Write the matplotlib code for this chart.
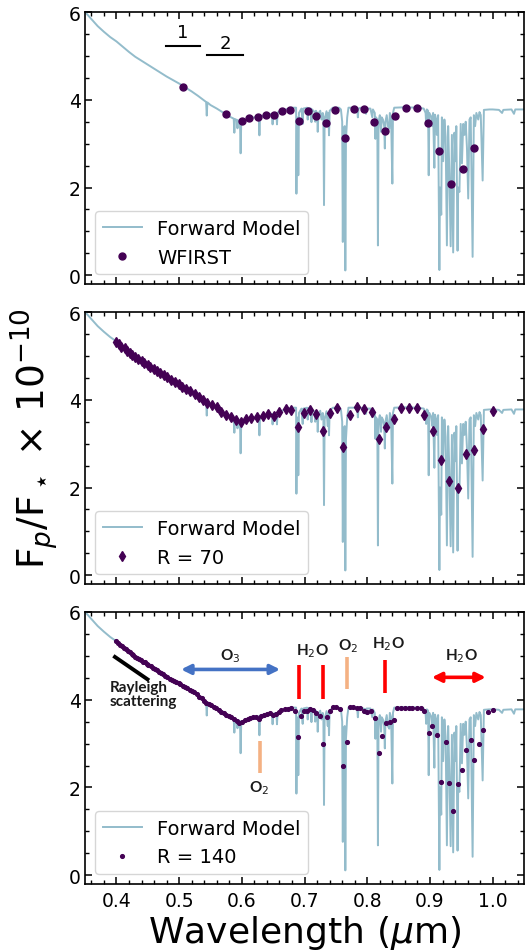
import numpy as np
import matplotlib
matplotlib.use('Agg')
import matplotlib.pyplot as plt
from matplotlib.ticker import MultipleLocator

# forward model spectrum, wavelength (micron) and Fp/Fs (x 1e-10)
model_wl = [
    0.350, 0.360, 0.370, 0.380, 0.390, 0.400, 0.410, 0.420, 0.430, 0.440,
    0.450, 0.460, 0.470, 0.480, 0.490, 0.500, 0.510, 0.520, 0.530, 0.540,
    0.543, 0.544, 0.545, 0.550, 0.560, 0.570, 0.580, 0.587, 0.588, 0.589,
    0.592, 0.593, 0.594, 0.597, 0.598, 0.599, 0.605, 0.610, 0.620, 0.627,
    0.628, 0.629, 0.640, 0.648, 0.649, 0.650, 0.655, 0.656, 0.657, 0.660,
    0.670, 0.680,
    0.6865, 0.687, 0.688, 0.6895, 0.690, 0.691, 0.695, 0.697, 0.698, 0.704,
    0.705, 0.706, 0.710, 0.711, 0.712, 0.716, 0.717, 0.718, 0.720, 0.721,
    0.722, 0.725, 0.727, 0.729, 0.730, 0.731, 0.732, 0.735, 0.737, 0.738,
    0.739, 0.740, 0.745, 0.750, 0.755, 0.758, 0.760, 0.761, 0.762, 0.764,
    0.765, 0.766, 0.768, 0.770, 0.780, 0.784, 0.785, 0.786, 0.790, 0.797,
    0.798, 0.799, 0.805, 0.808, 0.809, 0.812, 0.813, 0.814, 0.816, 0.817,
    0.818, 0.820, 0.822, 0.823, 0.825, 0.827, 0.828, 0.829, 0.831, 0.833,
    0.835, 0.836, 0.838, 0.840, 0.841, 0.843, 0.860, 0.880,
    0.890, 0.893, 0.894, 0.895, 0.897, 0.898, 0.899, 0.902, 0.904, 0.905,
    0.907, 0.908, 0.910, 0.911, 0.913, 0.915, 0.916, 0.918, 0.919, 0.921,
    0.923, 0.925, 0.927, 0.929, 0.931, 0.933, 0.935, 0.937, 0.939, 0.941,
    0.942, 0.944, 0.945, 0.947, 0.949, 0.951, 0.953, 0.955, 0.957, 0.959,
    0.961, 0.963, 0.965, 0.968, 0.970, 0.972, 0.974, 0.977, 0.979, 0.981,
    0.984, 0.986, 0.995, 1.000, 1.010, 1.015, 1.017, 1.030, 1.034, 1.036, 1.050,
]
model_flux = [
    6.00, 5.84, 5.68, 5.55, 5.43, 5.33, 5.21, 5.09, 4.98, 4.89,
    4.80, 4.71, 4.62, 4.53, 4.45, 4.37, 4.28, 4.19, 4.09, 3.98,
    3.95, 3.64, 3.94, 3.88, 3.80, 3.71, 3.62, 3.57, 3.25, 3.56,
    3.54, 3.35, 3.53, 3.51, 2.78, 3.50, 3.53, 3.57, 3.60, 3.62,
    3.19, 3.62, 3.66, 3.68, 3.44, 3.68, 3.70, 3.44, 3.71, 3.73,
    3.78, 3.82,
    3.82, 1.86, 3.60, 3.55, 2.28, 3.70, 3.80, 3.45, 3.80, 3.82,
    3.55, 3.81, 3.80, 3.49, 3.78, 3.72, 3.50, 3.75, 3.70, 3.27,
    3.68, 3.75, 3.55, 3.70, 3.60, 1.60, 3.55, 3.74, 3.40, 3.70,
    3.19, 3.75, 3.82, 3.82, 3.82, 3.78, 3.50, 0.76, 3.30, 3.40,
    0.11, 3.10, 3.60, 3.82, 3.82, 3.78, 3.60, 3.80, 3.82, 3.78,
    3.68, 3.80, 3.80, 3.60, 3.78, 3.70, 3.11, 3.60, 3.55, 0.68,
    3.50, 3.65, 3.27, 3.60, 3.55, 3.40, 2.89, 3.50, 3.65, 3.40,
    3.34, 3.70, 3.60, 2.09, 3.70, 3.82, 3.83, 3.82,
    3.80, 3.70, 3.45, 3.78, 3.75, 2.28, 3.70, 3.62, 3.40, 3.70,
    2.45, 3.66, 3.55, 3.20, 3.65, 0.12, 2.00, 1.38, 3.60, 2.60,
    3.55, 3.15, 0.68, 3.40, 2.30, 0.66, 3.20, 0.52, 3.25, 2.60,
    3.40, 0.56, 2.00, 1.90, 3.45, 2.55, 3.45, 3.20, 3.50, 2.90,
    1.75, 3.55, 3.60, 0.42, 3.65, 3.40, 3.70, 3.55, 3.72, 3.65,
    2.16, 3.77, 3.78, 3.78, 3.77, 3.70, 3.77, 3.78, 3.68, 3.78, 3.78,
]

# WFIRST band photometry
wfirst_wl = [0.506, 0.575, 0.600, 0.612, 0.625, 0.638, 0.651, 0.664, 0.677, 0.691,
             0.705, 0.719, 0.734, 0.749, 0.764, 0.779, 0.795, 0.811, 0.828, 0.844,
             0.861, 0.879, 0.897, 0.915, 0.933, 0.952, 0.971]
wfirst_flux = [4.29, 3.67, 3.51, 3.58, 3.61, 3.66, 3.66, 3.75, 3.76, 3.51,
               3.74, 3.64, 3.47, 3.77, 3.12, 3.78, 3.78, 3.49, 3.30, 3.64,
               3.81, 3.81, 3.47, 2.83, 2.08, 2.43, 2.91]

# R = 70 spectrum
r70_wl = [0.400, 0.404, 0.408, 0.413, 0.417, 0.421, 0.425, 0.430, 0.435, 0.440,
          0.444, 0.450, 0.454, 0.460, 0.465, 0.470, 0.476, 0.481, 0.487, 0.493,
          0.499, 0.505, 0.511, 0.518, 0.525, 0.531, 0.538, 0.545, 0.553, 0.560,
          0.567, 0.575, 0.583, 0.591, 0.598, 0.606, 0.615, 0.624, 0.633, 0.642,
          0.651, 0.660, 0.670, 0.679, 0.689, 0.699, 0.709, 0.719, 0.729, 0.740,
          0.751, 0.762, 0.772, 0.784, 0.795, 0.807, 0.819, 0.830, 0.842, 0.854,
          0.866, 0.879, 0.891, 0.905, 0.917, 0.931, 0.944, 0.958, 0.971, 0.985,
          1.000]
r70_flux = [5.32, 5.27, 5.21, 5.17, 5.11, 5.07, 5.02, 4.98, 4.94, 4.89,
            4.84, 4.80, 4.75, 4.71, 4.66, 4.61, 4.56, 4.52, 4.46, 4.41,
            4.36, 4.30, 4.25, 4.19, 4.13, 4.06, 3.99, 3.92, 3.88, 3.83,
            3.73, 3.66, 3.61, 3.54, 3.49, 3.57, 3.59, 3.61, 3.64, 3.68,
            3.64, 3.72, 3.78, 3.76, 3.39, 3.71, 3.76, 3.68, 3.29, 3.71,
            3.81, 2.92, 3.66, 3.83, 3.78, 3.72, 3.10, 3.39, 3.57, 3.82,
            3.82, 3.82, 3.66, 3.28, 2.62, 2.15, 1.99, 2.77, 2.85, 3.34,
            3.74]

# R = 140 spectrum
r140_wl = [0.400, 0.403, 0.406, 0.409, 0.412, 0.415, 0.418, 0.421, 0.424, 0.427,
           0.430, 0.433, 0.436, 0.439, 0.442, 0.445, 0.448, 0.451, 0.455, 0.458,
           0.461, 0.464, 0.468, 0.471, 0.474, 0.478, 0.481, 0.485, 0.488, 0.492,
           0.495, 0.499, 0.502, 0.506, 0.510, 0.513, 0.517, 0.521, 0.524, 0.528,
           0.532, 0.536, 0.540, 0.543, 0.547, 0.551, 0.555, 0.559, 0.563, 0.567,
           0.571, 0.575, 0.579, 0.583, 0.588, 0.592, 0.596, 0.600, 0.605, 0.609,
           0.613, 0.618, 0.622, 0.627, 0.631, 0.636, 0.640, 0.645, 0.649, 0.654,
           0.659, 0.663, 0.668, 0.673, 0.678, 0.684, 0.689, 0.694, 0.699, 0.704,
           0.709, 0.714, 0.719, 0.724, 0.729, 0.735, 0.740, 0.745, 0.750, 0.756,
           0.761, 0.767, 0.772, 0.778, 0.783, 0.788, 0.794, 0.800, 0.806, 0.812,
           0.818, 0.824, 0.830, 0.836, 0.842, 0.848, 0.854, 0.860, 0.866, 0.872,
           0.879, 0.885, 0.891, 0.898, 0.904, 0.911, 0.918, 0.925, 0.931, 0.937,
           0.944, 0.951, 0.958, 0.965, 0.971, 0.978, 0.985, 0.992, 1.000]
r140_flux = [5.33, 5.29, 5.25, 5.22, 5.19, 5.15, 5.11, 5.08, 5.05, 5.01,
             4.98, 4.95, 4.93, 4.90, 4.87, 4.85, 4.82, 4.79, 4.76, 4.73,
             4.70, 4.67, 4.64, 4.60, 4.58, 4.54, 4.51, 4.48, 4.46, 4.43,
             4.40, 4.37, 4.35, 4.31, 4.28, 4.26, 4.22, 4.19, 4.17, 4.12,
             4.07, 4.03, 3.98, 3.93, 3.90, 3.87, 3.84, 3.81, 3.77, 3.73,
             3.69, 3.66, 3.63, 3.60, 3.56, 3.52, 3.46, 3.49, 3.53, 3.56,
             3.58, 3.60, 3.61, 3.57, 3.63, 3.65, 3.67, 3.69, 3.64, 3.68,
             3.73, 3.76, 3.78, 3.79, 3.80, 3.74, 3.14, 3.62, 3.74, 3.75,
             3.79, 3.77, 3.69, 3.62, 2.99, 3.60, 3.74, 3.84, 3.84, 3.79,
             2.50, 3.03, 3.83, 3.83, 3.81, 3.80, 3.74, 3.71, 3.74, 3.58,
             2.78, 3.17, 3.46, 3.49, 3.53, 3.81, 3.81, 3.81, 3.81, 3.81,
             3.81, 3.80, 3.75, 3.23, 3.40, 3.19, 2.13, 3.04, 2.10, 1.47,
             2.07, 2.39, 2.85, 3.08, 2.63, 2.98, 3.32, 3.71, 3.77]

model_color = '#93bccb'
point_color = '#440154'

fig = plt.figure(figsize=(5.32, 9.53), dpi=100)
left, width, height = 0.16, 0.825, 0.2854
bottoms = [0.7009, 0.3861, 0.0714]
axes = [fig.add_axes([left, b, width, height]) for b in bottoms]

obs = [
    (wfirst_wl, wfirst_flux, 'o', 5.0, 'WFIRST'),
    (r70_wl, r70_flux, 'd', 5.5, 'R = 70'),
    (r140_wl, r140_flux, 'o', 2.7, 'R = 140'),
]

for ax, (wl, fl, mk, ms, lab) in zip(axes, obs):
    ax.plot(model_wl, model_flux, color=model_color, lw=1.4, label='Forward Model', zorder=2)
    ax.plot(wl, fl, ls='none', marker=mk, ms=ms, color=point_color, label=lab, zorder=3)
    ax.set_xlim(0.35, 1.05)
    ax.set_ylim(-0.2, 6.0)
    ax.xaxis.set_major_locator(MultipleLocator(0.1))
    ax.xaxis.set_minor_locator(MultipleLocator(0.02))
    ax.yaxis.set_major_locator(MultipleLocator(2))
    ax.yaxis.set_minor_locator(MultipleLocator(0.5))
    ax.tick_params(which='both', direction='in', top=True, right=True, labelsize=13.5)
    ax.tick_params(which='major', length=5, width=1.1)
    ax.tick_params(which='minor', length=3, width=1.0)
    ax.tick_params(axis='y', pad=3)
    ax.tick_params(axis='x', pad=5)
    for sp in ax.spines.values():
        sp.set_linewidth(1.2)
    ax.legend(loc='lower left', fontsize=14)

for ax in axes[:2]:
    ax.tick_params(labelbottom=False)

# bandpass markers in the top panel
ax = axes[0]
ax.plot([0.479, 0.534], [5.22, 5.22], color='k', lw=1.5)
ax.plot([0.545, 0.602], [5.01, 5.01], color='k', lw=1.5)
ax.text(0.505, 5.33, '1', fontsize=13, ha='center', va='bottom')
ax.text(0.574, 5.10, '2', fontsize=13, ha='center', va='bottom')

# feature annotations in the bottom panel
ax = axes[2]
lab_font = dict(family=['Lato', 'DejaVu Sans'], fontweight='bold', color='#1a1a1a')
ax.plot([0.395, 0.452], [5.00, 4.44], color='k', lw=2.8, solid_capstyle='butt')
ax.text(0.389, 4.12, 'Rayleigh\nscattering', fontsize=11, ha='left', va='center',
        linespacing=1.0, **lab_font)

ax.annotate('', xy=(0.661, 4.69), xytext=(0.503, 4.69),
            arrowprops=dict(arrowstyle='<|-|>', color='#4472c4', lw=2.6,
                            mutation_scale=14, shrinkA=0, shrinkB=0))
ax.text(0.581, 5.01, r'O$_3$', fontsize=11, ha='center', va='center', **lab_font)

ax.annotate('', xy=(0.989, 4.51), xytext=(0.903, 4.51),
            arrowprops=dict(arrowstyle='<|-|>', color='#ff0000', lw=2.6,
                            mutation_scale=14, shrinkA=0, shrinkB=0))
ax.text(0.950, 5.01, r'H$_2$O', fontsize=11, ha='center', va='center', **lab_font)

for x0, y0, y1 in [(0.6905, 4.02, 4.78), (0.7293, 4.02, 4.78), (0.829, 4.16, 4.91)]:
    ax.plot([x0, x0], [y0, y1], color='#ff0000', lw=2.6, solid_capstyle='butt')
for x0, y0, y1 in [(0.7675, 4.24, 4.97), (0.6284, 2.32, 3.06)]:
    ax.plot([x0, x0], [y0, y1], color='#f4b183', lw=2.6, solid_capstyle='butt')

ax.text(0.713, 5.13, r'H$_2$O', fontsize=11, ha='center', va='center', **lab_font)
ax.text(0.770, 5.24, r'O$_2$', fontsize=11, ha='center', va='center', **lab_font)
ax.text(0.834, 5.28, r'H$_2$O', fontsize=11, ha='center', va='center', **lab_font)
ax.text(0.627, 2.01, r'O$_2$', fontsize=11, ha='center', va='center', **lab_font)

ax.set_xlabel(r'Wavelength ($\mu$m)', fontsize=26, labelpad=2)
fig.text(0.064, 0.54, r'F$_p$/F$_\star$ $\times$ 10$^{-10}$', fontsize=27,
         rotation=90, ha='center', va='center')

fig.savefig('out.png', dpi=100)
